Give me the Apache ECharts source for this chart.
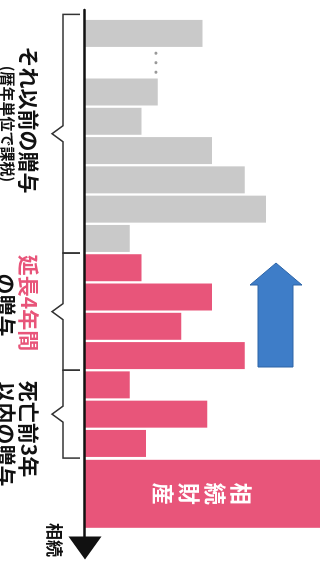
<!DOCTYPE html>
<html>
<head>
<meta charset="utf-8">
<title>相続財産と贈与</title>
<script src="https://cdn.jsdelivr.net/npm/echarts@6.0.0/dist/echarts.min.js"></script>
<style>
  html, body { margin: 0; padding: 0; background: #fff; overflow: hidden; }
  /* 横長の図を右へ90度回して縦に置く */
  #chart {
    position: absolute;
    left: 0;
    top: 0;
    width: 579px;
    height: 328px;
    transform-origin: 0 0;
    transform: translateX(328px) rotate(90deg);
  }
</style>
</head>
<body>
<div id="chart"></div>
<script>
// 贈与額（古い順、null は「・・・」で省略した年）
const earlierGifts = [50, null, 31, 24, 54, 68, 77, 19];
const extendedGifts = [24, 54, 41, 68];
const recentGifts = [19, 52, 26];
const estate = 100;
const estateSlot = 15.72;
// 括弧の区切り（年の並びの位置）
const groupEdges = [-0.65, 7.5, 11.5, 14.5];

const GRAY = "#c9c9c9";
const PINK = "#e8557a";
const FONT = "'Noto Sans CJK JP', sans-serif";

const gifts = earlierGifts.concat(extendedGifts, recentGifts);
const barData = gifts
  .map(function (v, i) {
    return {
      value: [i, v],
      itemStyle: { color: i < earlierGifts.length ? GRAY : PINK },
    };
  })
  .filter(function (d) {
    return d.value[1] != null;
  });

const chart = echarts.init(document.getElementById("chart"));
chart.setOption({
  animation: false,
  grid: { left: 10, right: 31, top: 8, bottom: 85 },
  xAxis: [
    {
      type: "value",
      min: -0.8,
      max: 17.57,
      z: 5,
      axisLine: {
        show: true,
        onZero: false,
        symbol: ["none", "triangle"],
        symbolSize: [33, 23],
        lineStyle: { color: "#111", width: 2.5 },
      },
      axisTick: { show: false },
      axisLabel: { show: false },
      splitLine: { show: false },
    },
    // 相続財産の棒だけ別の軸に載せる（幅が違うので）
    { type: "value", min: -0.8, max: 17.57, show: false },
  ],
  yAxis: { type: "value", min: 0, max: 100, show: false },
  series: [
    {
      type: "bar",
      xAxisIndex: 0,
      barWidth: 27,
      data: barData,
    },
    {
      type: "bar",
      xAxisIndex: 1,
      barWidth: 68,
      itemStyle: { color: PINK },
      label: {
        show: true,
        position: "inside",
        formatter: "相\n続\n財\n産",
        color: "#fff",
        fontSize: 22,
        lineHeight: 26,
        fontWeight: "bold",
        fontFamily: FONT,
      },
      data: [[estateSlot, estate]],
    },
  ],
});

function text(str, x, y, size, color) {
  return {
    type: "text",
    x: x,
    y: y,
    z: 10,
    style: {
      text: str,
      fill: color || "#111",
      fontSize: size,
      fontWeight: "bold",
      fontFamily: FONT,
      textAlign: "center",
      textVerticalAlign: "middle",
    },
  };
}

function bracket(a, b) {
  const m = (a + b) / 2;
  return {
    type: "polyline",
    z: 10,
    shape: {
      points: [[a, 248], [a, 265], [m - 8, 265], [m, 276], [m + 8, 265], [b, 265], [b, 248]],
    },
    style: { stroke: "#333", lineWidth: 1.5, fill: null },
  };
}

const edge = groupEdges.map(function (s) {
  return chart.convertToPixel({ xAxisIndex: 0 }, s);
});
const gapX = chart.convertToPixel({ xAxisIndex: 0 }, 1);

chart.setOption({
  graphic: [
    bracket(edge[0], edge[1]),
    bracket(edge[1], edge[2]),
    bracket(edge[2], edge[3]),
    text("それ以前の贈与", 120, 299, 21),
    text("(暦年単位で課税)", 124, 320, 15),
    text("延長4年間", 303, 299, 21, PINK),
    text("の贈与", 305, 322, 21),
    text("死亡前3年", 429, 299, 21),
    text("以内の贈与", 434, 322, 21),
    text("相続", 540, 274, 17),
    // 省略の点
    { type: "circle", shape: { cx: gapX - 9.5, cy: 172, r: 1.6 }, style: { fill: "#999" } },
    { type: "circle", shape: { cx: gapX, cy: 172, r: 1.6 }, style: { fill: "#999" } },
    { type: "circle", shape: { cx: gapX + 9.5, cy: 172, r: 1.6 }, style: { fill: "#999" } },
    // 増加を示す青い矢印
    {
      type: "polygon",
      shape: {
        points: [[367, 35], [285, 35], [285, 26], [263, 52], [285, 78], [285, 70], [367, 70]],
      },
      style: { fill: "#3e7dc8", stroke: "#2d64a6", lineWidth: 1 },
    },
  ],
});
</script>
</body>
</html>
